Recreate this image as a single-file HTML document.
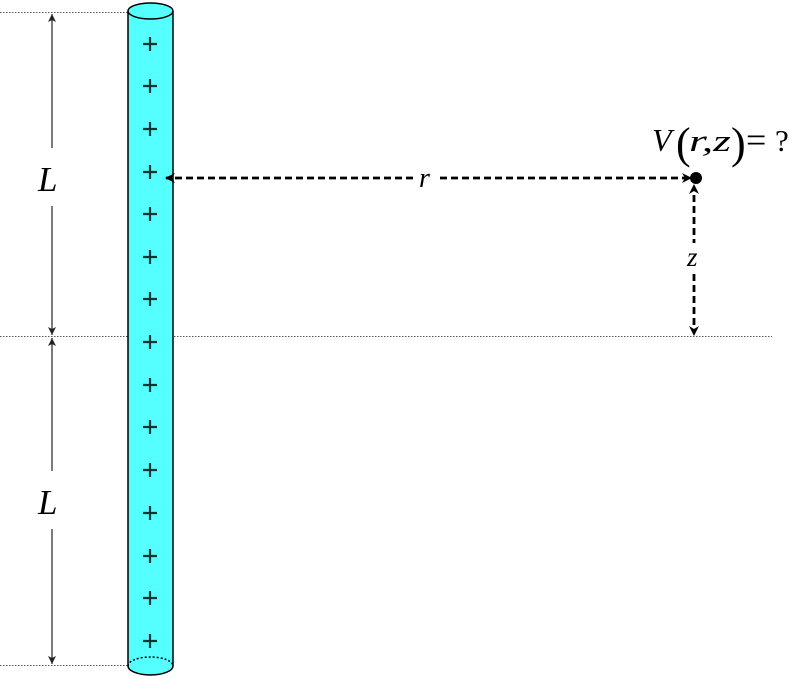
<!DOCTYPE html>
<html><head><meta charset="utf-8"><style>
html,body{margin:0;padding:0;background:#fff;}
svg{display:block;}
text{font-family:"Liberation Serif",serif;fill:#000;}
.i{font-style:italic;}
.n{font-style:normal;}
</style></head><body>
<svg width="796" height="679" viewBox="0 0 796 679" xmlns="http://www.w3.org/2000/svg">
<defs>
<marker id="ah" markerWidth="10" markerHeight="10" refX="9" refY="5" orient="auto" markerUnits="userSpaceOnUse">
<path d="M0,0 L10,5 L0,10 L3,5 z" fill="#000"/>
</marker>
<marker id="as" markerWidth="8" markerHeight="8" refX="8" refY="4" orient="auto" markerUnits="userSpaceOnUse">
<path d="M0,0 L8,4 L0,8 L2,4 z" fill="#222"/>
</marker>
</defs>
<g stroke="#555" stroke-width="1" stroke-dasharray="1.5,1.5">
<line x1="0" y1="12.5" x2="128" y2="12.5"/>
<line x1="0" y1="336.5" x2="772" y2="336.5"/>
<line x1="0" y1="665.5" x2="128" y2="665.5"/>
</g>
<rect x="128" y="11" width="45" height="655" fill="#55ffff" stroke="none"/>
<line x1="128" y1="11" x2="128" y2="666" stroke="#000" stroke-width="1.5"/>
<line x1="173" y1="11" x2="173" y2="666" stroke="#000" stroke-width="1.5"/>
<ellipse cx="150.5" cy="11" rx="22.5" ry="8" fill="#55ffff" stroke="#000" stroke-width="1.5"/>
<path d="M128,666 A22.5,9 0 0 1 173,666" fill="none" stroke="#000" stroke-width="1.5" stroke-dasharray="2,2"/>
<path d="M128,666 A22.5,9 0 0 0 173,666" fill="#55ffff" stroke="#000" stroke-width="1.5"/>
<g stroke="#113333" stroke-width="2.2">
<path d="M143,44h14M150,37v14"/>
<path d="M143,86h14M150,79v14"/>
<path d="M143,129h14M150,122v14"/>
<path d="M143,172h14M150,165v14"/>
<path d="M143,214h14M150,207v14"/>
<path d="M143,257h14M150,250v14"/>
<path d="M143,299h14M150,292v14"/>
<path d="M143,342h14M150,335v14"/>
<path d="M143,385h14M150,378v14"/>
<path d="M143,427h14M150,420v14"/>
<path d="M143,470h14M150,463v14"/>
<path d="M143,513h14M150,506v14"/>
<path d="M143,556h14M150,549v14"/>
<path d="M143,598h14M150,591v14"/>
<path d="M143,641h14M150,634v14"/>
</g>
<g stroke="#222" stroke-width="1.2" fill="none">
<line x1="52" y1="148" x2="52" y2="14" marker-end="url(#as)"/>
<line x1="52" y1="206" x2="52" y2="335" marker-end="url(#as)"/>
<line x1="52" y1="471" x2="52" y2="338" marker-end="url(#as)"/>
<line x1="52" y1="529" x2="52" y2="664" marker-end="url(#as)"/>
</g>
<text class="i" x="38" y="191" font-size="35">L</text>
<text class="i" x="38" y="514" font-size="35">L</text>
<g stroke="#000" stroke-width="2.8" stroke-dasharray="7,4" fill="none">
<line x1="413" y1="178" x2="166" y2="178" marker-end="url(#ah)"/>
<line x1="440" y1="178" x2="690" y2="178"/>
</g>
<path d="M682,173 L692,178 L682,183 L685,178 z" fill="#000"/>
<text class="i" x="419" y="187" font-size="28">r</text>
<circle cx="696" cy="178" r="6" fill="#000"/>
<g stroke="#000" stroke-width="2.8" stroke-dasharray="7,4" fill="none">
<line x1="694" y1="195" x2="694" y2="243"/>
<line x1="694" y1="274" x2="694" y2="328"/>
</g>
<path d="M689,194 L694,184 L699,194 L694,191 z" fill="#000"/>
<path d="M689,326 L694,336 L699,326 L694,329 z" fill="#000"/>
<text class="i" x="687" y="266" font-size="27">z</text>
<text class="i" x="652" y="151" font-size="32">V</text>
<text class="n" x="676" y="158" font-size="44">(</text>
<text class="i" x="689" y="151" font-size="31" textLength="42" lengthAdjust="spacingAndGlyphs">r,z</text>
<text class="n" x="731" y="158" font-size="44">)</text>
<text class="n" x="746" y="152" font-size="36">=</text>
<text class="n" x="775" y="151" font-size="31">?</text>
</svg>
</body></html>
